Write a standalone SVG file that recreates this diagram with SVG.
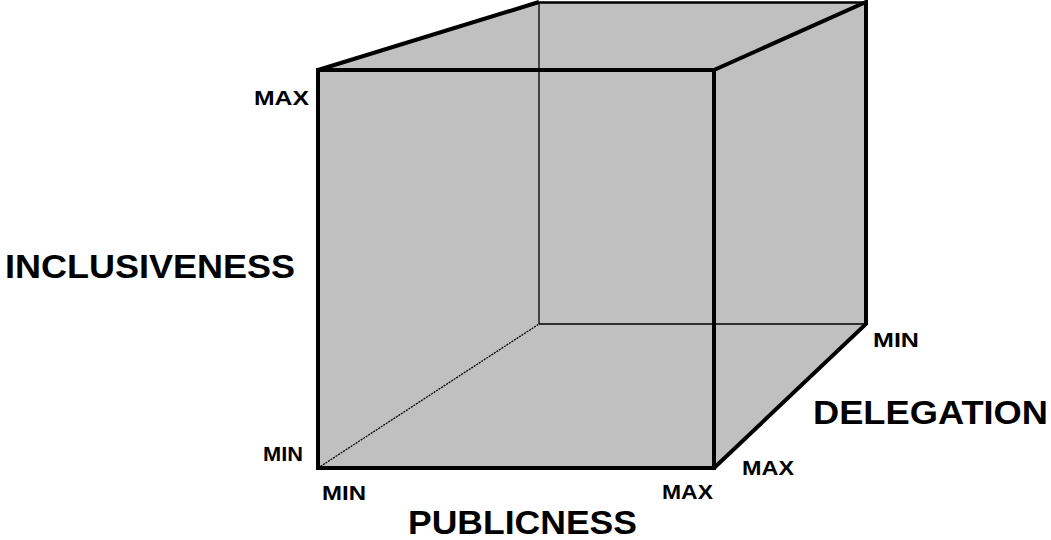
<svg xmlns="http://www.w3.org/2000/svg" width="1051" height="540" viewBox="0 0 1051 540">
<style>
.big{font-family:"Liberation Sans",Arial,sans-serif;font-weight:bold;font-size:34px;fill:#000}
.sm{font-family:"Liberation Sans",Arial,sans-serif;font-weight:bold;font-size:20px;fill:#000}
.thick{stroke:#000;stroke-width:4;fill:none;stroke-linejoin:miter}
.thin{stroke:#000;stroke-width:1.3;fill:none}
</style>
<rect width="1051" height="540" fill="#fff"/>
<g id="cube">
<polygon points="318,70 539,2 866,2 866,324 714,468 318,468" fill="#c0c0c0" stroke="none"/>
<g id="connectors">
<line class="thin" x1="539" y1="2" x2="539" y2="324"/>
<line class="thin" x1="539" y1="324" x2="866" y2="324"/>
<line class="thin" x1="318" y1="468" x2="539" y2="324" stroke-dasharray="2,1"/>
<line x1="539" y1="2.5" x2="866" y2="2.5" stroke="#000" stroke-width="2.5"/>
<polyline class="thick" points="318,70 539,2"/>
<polyline class="thick" points="714,70 866,2 866,324 714,468"/>
<rect class="thick" x="318" y="70" width="396" height="398"/>
</g>
</g>
<g id="labels">
<text class="sm" x="254" y="105" textLength="55" lengthAdjust="spacingAndGlyphs">MAX</text>
<text class="sm" x="263" y="461" textLength="40" lengthAdjust="spacingAndGlyphs">MIN</text>
<text class="sm" x="322" y="500" textLength="44" lengthAdjust="spacingAndGlyphs">MIN</text>
<text class="sm" x="662" y="499" textLength="51" lengthAdjust="spacingAndGlyphs">MAX</text>
<text class="sm" x="742" y="475" textLength="52" lengthAdjust="spacingAndGlyphs">MAX</text>
<text class="sm" x="873" y="347" textLength="46" lengthAdjust="spacingAndGlyphs">MIN</text>
<text class="big" x="5" y="278" textLength="290" lengthAdjust="spacingAndGlyphs">INCLUSIVENESS</text>
<text class="big" x="813" y="424" textLength="235" lengthAdjust="spacingAndGlyphs">DELEGATION</text>
<text class="big" x="408" y="534" font-size="33" textLength="229" lengthAdjust="spacingAndGlyphs">PUBLICNESS</text>
</g>
</svg>
